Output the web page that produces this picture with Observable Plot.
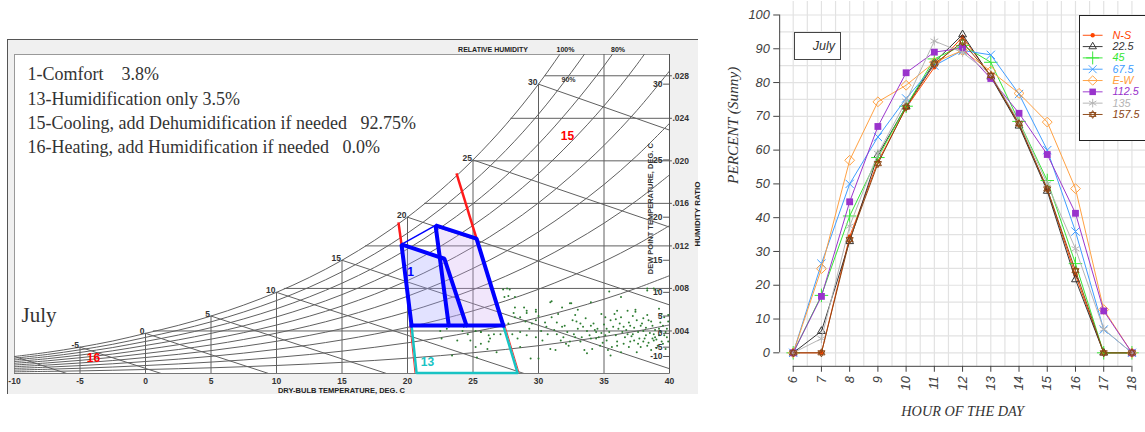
<!DOCTYPE html>
<html>
<head>
<meta charset="utf-8">
<script src="https://cdn.jsdelivr.net/npm/d3@7"></script>
<script src="https://cdn.jsdelivr.net/npm/@observablehq/plot@0.6"></script>
<style>
  html, body { margin: 0; padding: 0; background: #fff; overflow: hidden; }
  #page { position: relative; width: 1145px; height: 432px; overflow: hidden; }
  .abs { position: absolute; }
  #psyBox { left: 7px; top: 39px; width: 691px; height: 355px; background: #f0f0f0; border-top: 1px solid #555; border-left: 1px solid #555; box-sizing: border-box; }
  #psy { left: 0; top: 0; }
  #sun { left: 720px; top: 0; }
  #monthBox { left: 794px; top: 32px; width: 47px; height: 28px; box-sizing: border-box; border: 1px solid #444; background: #fff; font: italic 12.5px "Liberation Sans", Arial, sans-serif; color: #333; text-align: right; padding-right: 5px; line-height: 26px; }
  #legendBox { left: 1079px; top: 15px; width: 80px; height: 126px; box-sizing: border-box; border: 1.5px solid #222; background: #fff; }
  #legend { left: 1079px; top: 15px; }
  svg text { white-space: pre; }
</style>
</head>
<body>
<div id="page">
  <div id="psyBox" class="abs"></div>
  <div id="psy" class="abs"></div>
  <div id="sun" class="abs"></div>
  <div id="monthBox" class="abs"></div>
  <div id="legendBox" class="abs"></div>
  <div id="legend" class="abs"></div>
</div>
<script>
// ================= LEFT PANEL DATA: psychrometric chart =================
const zoneNotes = [
  "1-Comfort    3.8%",
  "13-Humidification only 3.5%",
  "15-Cooling, add Dehumidification if needed   92.75%",
  "16-Heating, add Humidification if needed   0.0%"
];
const monthName = "July";

// saturation vapour pressure (kPa) at dry-bulb temperature (deg C)
const tableT    = [-10, -7.5, -5, -2.5, 0, 2.5, 5, 7.5, 10, 12.5, 15, 17.5, 20, 22.5, 25, 27.5, 30, 32.5, 35, 37.5, 40];
const tablePsat = [0.2599, 0.3232, 0.4018, 0.4956, 0.6112, 0.7317, 0.8725, 1.0375, 1.2282, 1.4497, 1.7057, 2.0016, 2.3392, 2.7281, 3.1697, 3.6726, 4.2470, 4.9018, 5.6290, 6.4554, 7.3849];
const rhLevels  = [0.1, 0.2, 0.3, 0.4, 0.5, 0.6, 0.7, 0.8, 0.9, 1.0];

const dryBulbTicks   = [-10, -5, 0, 5, 10, 15, 20, 25, 30, 35, 40];
const dryBulbLines   = [-5, 0, 5, 10, 15, 20, 25, 30, 35];
const satLabels      = [-5, 0, 5, 10, 15, 20, 25, 30];
const humTicks       = [4, 8, 12, 16, 20, 24, 28];               // g/kg
const humTickLabels  = [".004", ".008", ".012", ".016", ".020", ".024", ".028"];
const humLineStartT  = [0.6, 10.6, 16.8, 21.3, 24.9, 27.9, 30.5];
const dewTicks       = [-10, -5, 0, 5, 10, 15, 20, 25, 30];
const wetBulbT       = [-10, -5, 0, 5, 10, 15, 20, 25, 30];
const wetBulbEndT    = [-6.0, 1.2, 9.4, 18.4, 28.9, 40, 40, 40, 40];
const wetBulbEndW    = [0, 0, 0, 0, 0, 0.45, 6.45, 13.77, 22.89];

// zones (T in deg C, W in g/kg)
const comfortZoneT = [19.54, 22.82, 24.50, 20.31];
const comfortZoneW = [12.14, 10.79, 4.52, 4.52];
const coolingZoneT = [22.14, 25.27, 27.31, 23.15];
const coolingZoneW = [13.93, 12.68, 4.52, 4.52];
const humidZoneT   = [20.31, 20.69, 28.40, 27.31];
const humidZoneW   = [4.52, 0.05, 0.05, 4.52];
const limitLineT   = [[19.31, 19.54], [23.74, 25.27]];
const limitLineW   = [[14.21, 12.14], [18.82, 12.68]];
const zoneLabelText  = ["1", "13", "15", "16"];
const zoneLabelT     = [20.23, 21.53, 32.21, -3.97];
const zoneLabelW     = [9.5, 1.03, 22.3, 1.41];
const zoneLabelColor = ["#0000ff", "#19c3c3", "#ff0000", "#ff0000"];

// hourly climate points (T, W g/kg)
const climatePoints = [
  [27.3,7.9],[27.7,7.3],[28.1,5.7],[28.2,5.3],[27.7,4.7],[27.1,3.7],[26.2,3.6],[26.2,3.0],[28.9,6.2],[29.1,5.7],
  [29.8,6.0],[29.8,5.0],[29.5,4.7],[30.2,4.0],[29.1,3.6],[30.5,4.8],[30.9,6.7],[31.0,5.3],[31.4,4.8],[31.8,4.4],
  [32.4,6.6],[32.6,5.0],[32.8,5.5],[33.0,4.2],[33.2,4.7],[33.3,3.4],[33.7,4.0],[34.0,4.5],[34.2,4.7],[34.4,3.9],
  [34.5,4.2],[35.1,5.3],[35.2,4.2],[35.5,5.0],[35.8,5.6],[36.0,5.9],[36.3,5.3],[36.5,4.4],[36.8,3.7],[37.4,5.8],
  [37.5,5.0],[37.8,4.5],[38.0,4.0],[38.3,5.5],[38.4,5.0],[38.7,4.5],[38.8,3.7],[38.9,3.4],[39.2,4.2],[39.3,4.8],
  [39.6,5.3],[39.8,3.4],[39.9,3.0],[38.3,8.0],[38.8,8.0],[30.0,1.4],[30.9,2.3],[31.3,2.2],[31.7,3.1],[32.1,2.8],
  [32.4,3.0],[32.8,3.4],[33.5,2.2],[33.7,1.9],[34.1,2.3],[34.4,3.3],[34.7,2.6],[35.2,3.1],[35.6,2.5],[36.0,3.0],
  [36.3,2.0],[36.5,2.8],[36.9,2.5],[37.3,3.1],[37.5,2.0],[37.8,2.5],[38.0,3.0],[38.3,2.6],[38.6,2.2],[38.8,3.1],
  [39.1,2.6],[39.4,3.0],[39.7,2.3],[35.5,1.7],[32.3,2.6],[29.4,1.4],[28.6,2.5],[28.4,3.3],[28.0,3.7],[29.3,4.2],
  [31.4,3.7],[31.9,3.4],[32.2,3.9],[30.7,3.7],[30.3,3.1],[29.8,3.4],[28.6,3.9],[36.6,3.4],[37.2,3.7],[37.7,3.3],
  [38.2,3.6],[38.7,3.3],[39.2,3.6],[39.7,3.9],[37.0,4.5],[36.1,4.2],[35.1,3.6],[34.6,3.4],[34.0,3.3],[33.2,3.0],
  [32.7,3.7],[27.8,7.9],[27.4,7.2],[28.2,6.2],[25.6,2.8],[25.2,2.5],[26.1,2.3],[26.3,3.3],[24.6,3.7],[23.8,3.1],
  [23.4,1.7],[22.6,3.3],[25.2,4.0],[24.8,3.1],[25.6,3.9],[22.5,4.0],[25.3,1.5],[26.6,3.7],[26.8,2.0],[24.2,4.0],
  [27.6,8.0],[28.2,7.2],[29.1,5.9],[29.8,5.8],[28.6,5.3],[23.0,4.2],[24.3,4.4],[25.6,3.9],[31.0,6.8],[31.8,6.2],
  [32.5,6.6],[34.0,6.7],[35.4,7.7],[36.3,7.2],[37.4,6.0],[38.3,7.8],[39.1,7.8],[39.2,6.1],[39.9,5.5],[34.3,4.1],
  [34.8,3.8],[35.0,4.6],[35.4,3.9],[35.7,4.4],[35.9,3.6],[36.2,4.7],[36.4,3.9],[36.7,4.1],[36.9,4.8],[37.1,3.5],
  [37.3,4.3],[37.6,3.9],[37.9,4.7],[38.1,3.3],[38.2,4.3],[38.5,3.8],[38.6,4.9],[38.9,4.1],[39.0,3.2],[39.3,3.9],
  [39.5,4.5],[39.6,3.6],[39.8,4.2],[39.9,4.9],[37.0,3.0],[37.6,2.8],[38.4,2.9],[39.0,2.4],[39.5,2.8],[36.0,2.6],
  [35.3,2.2],[34.9,2.9],[33.9,3.6],[33.4,4.4],[32.9,4.9],[32.0,4.5],[31.2,4.1],[30.6,4.4],[33.6,5.2],[35.9,5.1],
  [38.0,5.2],[39.4,5.6],[37.2,5.4],[36.8,5.9],[34.8,5.6],[33.0,6.0],[31.5,5.6],[30.0,5.4],[29.0,4.9]
];

// ================= RIGHT PANEL DATA: percent sunny by orientation =================
const hours = [6, 7, 8, 9, 10, 11, 12, 13, 14, 15, 16, 17, 18];
const percentTicks = [0, 10, 20, 30, 40, 50, 60, 70, 80, 90, 100];
const seriesNames  = ["N-S", "22.5", "45", "67.5", "E-W", "112.5", "135", "157.5"];
const seriesColors = ["#ff4500", "#333333", "#33e633", "#3d9bff", "#ffa040", "#9933cc", "#b4b4b4", "#8b4513"];
const pctNS    = [0, 0,    34.4, 56.6, 72.5, 84.5, 93.5, 82.0, 67.5, 48.5, 23.0, 0,    0];
const pct22_5  = [0, 6.4,  33.0, 58.5, 73.0, 86.0, 94.2, 81.7, 67.2, 47.9, 21.7, 0,    0];
const pct45    = [0, 17.0, 40.5, 57.8, 73.0, 87.0, 91.0, 86.0, 68.5, 51.0, 26.4, 0,    0];
const pct67_5  = [0, 26.4, 50.0, 63.9, 75.3, 85.0, 89.5, 88.2, 76.6, 60.0, 35.9, 6.9,  0];
const pctEW    = [0, 24.9, 57.0, 74.3, 79.2, 86.0, 89.5, 83.4, 76.8, 68.3, 48.6, 12.8, 0];
const pct112_5 = [0, 16.7, 44.7, 67.0, 82.9, 89.0, 90.2, 81.2, 70.9, 58.7, 41.3, 12.4, 0];
const pct135   = [0, 4.2,  37.5, 59.0, 74.5, 92.3, 88.9, 82.4, 68.3, 50.0, 30.8, 7.0,  0];
const pct157_5 = [0, 0,    33.5, 56.0, 72.7, 85.5, 92.0, 82.1, 67.8, 48.5, 24.3, 0,    0];
const seriesValues = [pctNS, pct22_5, pct45, pct67_5, pctEW, pct112_5, pct135, pct157_5];
const xTitle = "HOUR OF THE DAY";
const yTitle = "PERCENT (Sunny)";

// ================= LEFT PANEL =================
const wAt = (T, phi) => { const p = tablePsat[tableT.indexOf(T)]; return 622 * phi * p / (101.325 - phi * p); };
const rhCurves = rhLevels.flatMap(phi => tableT.map((T, i) => ({phi, T, w: 622 * phi * tablePsat[i] / (101.325 - phi * tablePsat[i])})));
const pts = (T, W) => T.map((t, i) => ({T: t, W: W[i]}));
const comfort = pts(comfortZoneT, comfortZoneW);
const cooling = pts(coolingZoneT, coolingZoneW);
const humid = pts(humidZoneT, humidZoneW);
const g = "#606060";
const serif = "'Liberation Serif', 'Times New Roman', serif";

const psy = Plot.plot({
  width: 705, height: 400,
  marginLeft: 14, marginRight: 36, marginTop: 54, marginBottom: 27,
  x: {domain: [-10, 40], axis: null},
  y: {domain: [0, 30], axis: null},
  style: {background: "transparent", fontFamily: "'Liberation Sans', Arial, sans-serif", fontWeight: "bold", fontSize: "8.5px", color: "#333", overflow: "visible"},
  marks: [
    Plot.frame({fill: "white", stroke: "#999"}),
    Plot.line(rhCurves, {x: "T", y: "w", z: "phi", stroke: g, strokeWidth: 1, curve: "catmull-rom", clip: true}),
    Plot.ruleX(dryBulbLines, {x: d => d, y1: 0, y2: d => Math.min(30, wAt(d, 1)), stroke: g, strokeWidth: 1}),
    Plot.ruleY(humTicks, {y: d => d, x1: (d, i) => humLineStartT[i], x2: 40, stroke: g, strokeWidth: 1}),
    Plot.link(wetBulbT, {x1: d => d, y1: d => wAt(d, 1), x2: (d, i) => wetBulbEndT[i], y2: (d, i) => wetBulbEndW[i], stroke: g, strokeWidth: 1}),
    Plot.ruleX([40], {y1: 0, y2: 30, stroke: "#555", strokeWidth: 1}),
    Plot.ruleY([0], {x1: -10, x2: 40, stroke: "#777", strokeWidth: 1}),
    // zone fills
    Plot.line(cooling, {x: "T", y: "W", fill: "rgba(205,165,240,0.28)", stroke: "none"}),
    Plot.line(comfort, {x: "T", y: "W", fill: "rgba(160,160,255,0.30)", stroke: "none"}),
    // climate points
    Plot.dot(climatePoints, {x: d => d[0], y: d => d[1], r: 1.0, fill: "#2e7d32", stroke: "none"}),
    // humidification zone 13
    Plot.link([0], {x1: humidZoneT[0], y1: humidZoneW[0], x2: humidZoneT[1], y2: humidZoneW[1], stroke: "#ff3030", strokeWidth: 1, dx: -1.6}),
    Plot.link([0], {x1: humidZoneT[3], y1: humidZoneW[3], x2: humidZoneT[2], y2: humidZoneW[2], stroke: "#ff3030", strokeWidth: 1, dx: 1.6}),
    Plot.line(humid, {x: "T", y: "W", stroke: "#19c3c3", strokeWidth: 2.5}),
    // red limit lines
    Plot.link(limitLineT, {x1: d => d[0], x2: d => d[1], y1: (d, i) => limitLineW[i][0], y2: (d, i) => limitLineW[i][1], stroke: "#ff1a1a", strokeWidth: 2.5}),
    // blue outlines
    Plot.link([0], {x1: comfortZoneT[0], y1: comfortZoneW[0], x2: coolingZoneT[0], y2: coolingZoneW[0], stroke: "#0000ff", strokeWidth: 1.5}),
    Plot.line([3, 0, 1, 2].map(i => comfort[i]), {x: "T", y: "W", stroke: "#0000ff", strokeWidth: 4, strokeLinejoin: "miter"}),
    Plot.line([3, 0, 1, 2].map(i => cooling[i]), {x: "T", y: "W", stroke: "#0000ff", strokeWidth: 4, strokeLinejoin: "miter"}),
    Plot.link([0], {x1: comfortZoneT[3], y1: comfortZoneW[3], x2: coolingZoneT[2], y2: coolingZoneW[2], stroke: "#0000ff", strokeWidth: 4, strokeLinecap: "square"}),
    // zone numbers
    ...zoneLabelText.map((t, i) => Plot.text([t], {x: zoneLabelT[i], y: zoneLabelW[i], text: d => d, fill: zoneLabelColor[i], fontSize: 12, fontWeight: "bold"})),
    // labels on the saturation curve
    Plot.text(satLabels, {x: d => d, y: d => wAt(d, 1), text: d => String(d), textAnchor: "end", lineAnchor: "bottom", dx: -1, dy: 1, fill: "#333"}),
    // bottom axis
    Plot.text(dryBulbTicks, {x: d => d, y: -0.75, text: d => String(d), lineAnchor: "middle", fill: "#333"}),
    Plot.text(["DRY-BULB TEMPERATURE, DEG. C"], {x: 14.96, y: -1.65, text: d => d, fontSize: 7.5, lineAnchor: "middle", fill: "#222"}),
    // right axes
    Plot.ruleY(dewTicks, {y: d => wAt(d, 1), x1: 39.55, x2: 40, stroke: "#555"}),
    Plot.text(dewTicks, {x: 40, y: d => wAt(d, 1), text: d => String(d), textAnchor: "end", dx: -7, lineAnchor: "middle", fill: "#333"}),
    Plot.ruleY(humTicks, {y: d => d, x1: 40, x2: 40.22, stroke: "#555"}),
    Plot.text(humTicks, {x: 40, y: d => d, text: (d, i) => humTickLabels[i], textAnchor: "start", dx: 3, lineAnchor: "middle", fill: "#333"}),
    Plot.text(["DEW POINT TEMPERATURE, DEG. C"], {x: 38.55, y: 15.5, text: d => d, rotate: -90, fontSize: 7.5, fill: "#333"}),
    Plot.text(["HUMIDITY RATIO"], {x: 42.14, y: 15.0, text: d => d, rotate: -90, fontSize: 8, fill: "#222"}),
    // top labels
    Plot.text(["RELATIVE HUMIDITY"], {x: 26.53, y: 30.47, text: d => d, fontSize: 7, fill: "#222"}),
    Plot.text(["100%"], {x: 32.06, y: 30.47, text: d => d, fontSize: 7, fill: "#222"}),
    Plot.text(["80%"], {x: 36.07, y: 30.47, text: d => d, fontSize: 7, fill: "#222"}),
    Plot.text(["90%"], {x: 32.29, y: 27.6, text: d => d, fontSize: 7, fill: "#333"}),
    // notes & month
    ...zoneNotes.map((t, i) => Plot.text([t], {frameAnchor: "top-left", dx: 13, dy: 20 + 24.4 * i, text: d => d, textAnchor: "start", lineAnchor: "middle", fontFamily: serif, fontSize: 18, fontWeight: "normal", fill: "#333"})),
    Plot.text([monthName], {frameAnchor: "top-left", dx: 7, dy: 261, text: d => d, textAnchor: "start", lineAnchor: "middle", fontFamily: serif, fontSize: 21, fontWeight: "normal", fill: "#333"})
  ]
});
document.getElementById("psy").appendChild(psy);

// ================= RIGHT PANEL =================
const pch11 = {
  draw(ctx, size) {
    const r = Math.sqrt(size / Math.PI) * 1.15, a = r * 0.866, b = r * 0.5;
    ctx.moveTo(0, -r); ctx.lineTo(a, b); ctx.lineTo(-a, b); ctx.closePath();
    ctx.moveTo(0, r); ctx.lineTo(a, -b); ctx.lineTo(-a, -b); ctx.closePath();
  }
};
const symbolSpec = [
  {symbol: "circle", r: 2.3, filled: true},
  {symbol: "triangle2", r: 3.8},
  {symbol: "plus", r: 4.5},
  {symbol: "times", r: 3.9},
  {symbol: "diamond2", r: 4.5},
  {symbol: "square", r: 3.9, filled: true},
  {symbol: "asterisk", r: 4.3},
  {symbol: pch11, r: 3.6}
];
function dotsFor(data, i, opts) {
  const s = symbolSpec[i], c = seriesColors[i];
  return Plot.dot(data, {...opts, symbol: s.symbol, r: s.r, fill: s.filled ? c : "none", stroke: s.filled ? "none" : c, strokeWidth: 1});
}

const sunMarks = [
  Plot.gridX(d3.range(6, 18.6, 0.5), {stroke: "#e2e2e2", strokeOpacity: 1, strokeWidth: 1.2}),
  Plot.gridY(d3.range(0, 101, 5), {stroke: "#e2e2e2", strokeOpacity: 1, strokeWidth: 1.2}),
  Plot.ruleX([5.52], {y1: 0, y2: 100, stroke: "#404040", strokeWidth: 1}),
  Plot.ruleY([-4], {x1: 6, x2: 18, stroke: "#404040", strokeWidth: 1}),
  Plot.axisY(percentTicks, {tickSize: 6, tickPadding: 4, label: null}),
  Plot.axisX(hours, {tickSize: 6, tickPadding: 4, tickRotate: -90, label: null})
];
seriesValues.forEach((vals, i) => {
  const data = hours.map((h, j) => ({hour: h, v: vals[j]}));
  sunMarks.push(Plot.line(data, {x: "hour", y: "v", stroke: seriesColors[i], strokeWidth: 1}));
  sunMarks.push(dotsFor(data, i, {x: "hour", y: "v"}));
});
sunMarks.push(Plot.text([yTitle], {frameAnchor: "left", dx: -47, rotate: -90, text: d => d, fontFamily: serif, fontSize: 15.5, fill: "#333"}));
sunMarks.push(Plot.text([xTitle], {frameAnchor: "bottom", dy: 50, text: d => d, fontFamily: serif, fontSize: 14.5, fill: "#333"}));

const sun = Plot.plot({
  width: 431, height: 432,
  marginLeft: 60, marginRight: 0, marginTop: 1, marginBottom: 61,
  x: {domain: [5.52, 18.48]},
  y: {domain: [-4, 104]},
  style: {background: "transparent", fontFamily: "'Liberation Sans', Arial, sans-serif", fontSize: "13px", fontStyle: "italic", color: "#404040", overflow: "visible"},
  marks: sunMarks
});
document.getElementById("sun").appendChild(sun);

document.getElementById("monthBox").textContent = monthName;

// legend
const legendMarks = [];
seriesNames.forEach((name, i) => {
  legendMarks.push(Plot.ruleY([name], {y: d => d, x1: 4, x2: 25, stroke: seriesColors[i], strokeWidth: 1}));
  legendMarks.push(dotsFor([name], i, {x: 14, y: d => d}));
  legendMarks.push(Plot.text([name], {x: 35, y: d => d, text: d => d, textAnchor: "start", fill: seriesColors[i]}));
});
const legend = Plot.plot({
  width: 70, height: 126, margin: 0,
  x: {domain: [0, 70], range: [0, 70], axis: null},
  y: {type: "point", domain: seriesNames, range: [13, 113], axis: null},
  style: {background: "transparent", fontFamily: "'Liberation Sans', Arial, sans-serif", fontSize: "11.5px", fontStyle: "italic", overflow: "visible"},
  marks: legendMarks
});
document.getElementById("legend").appendChild(legend);
</script>
</body>
</html>
